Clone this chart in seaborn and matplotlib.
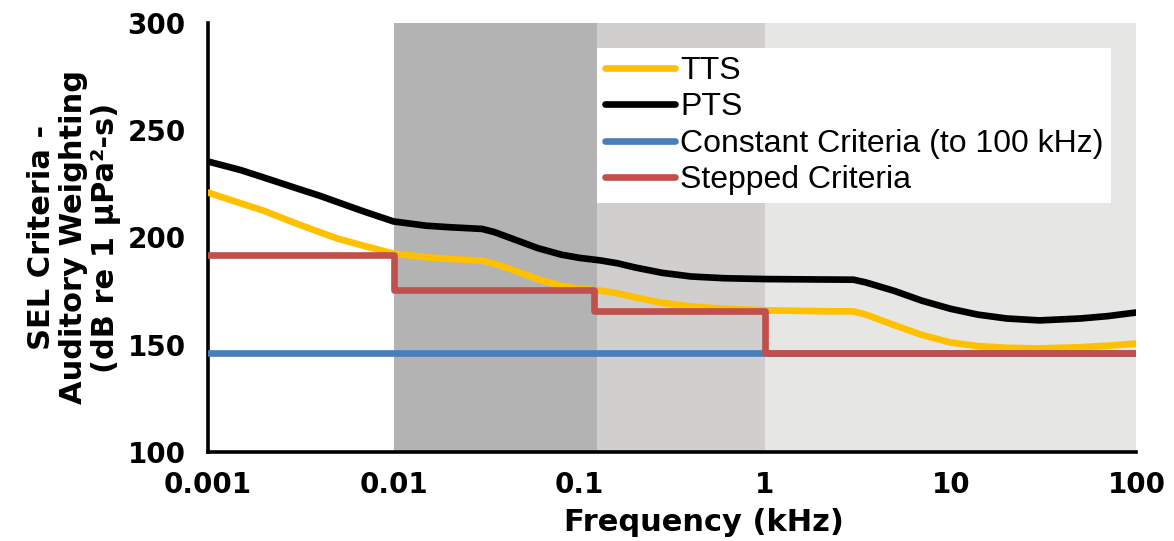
import matplotlib
matplotlib.use("Agg")
import matplotlib.pyplot as plt
import pandas as pd
import seaborn as sns

# values (frequency in kHz, SEL in dB)
tts_freq = [0.001, 0.0015, 0.002, 0.003, 0.004, 0.005, 0.007, 0.01, 0.015, 0.02, 0.03,
            0.035, 0.045, 0.06, 0.08, 0.1, 0.13, 0.16, 0.2, 0.28, 0.4, 0.6, 1, 2, 3,
            3.5, 5, 7, 10, 14, 20, 30, 50, 70, 100]
tts_sel = [221, 216, 212.5, 206.5, 202.5, 199.5, 196, 192.5, 190.8, 190, 189.2,
           187.8, 184.5, 180.5, 177.5, 176, 175.2, 174, 172, 169.5, 167.8, 166.8, 166, 165.6, 165.5,
           164, 159, 154.5, 151, 149.3, 148.5, 148.2, 148.8, 149.5, 150.5]

pts_freq = [0.001, 0.0015, 0.002, 0.003, 0.004, 0.005, 0.007, 0.01, 0.015, 0.02, 0.03,
            0.035, 0.045, 0.06, 0.08, 0.1, 0.13, 0.16, 0.2, 0.28, 0.4, 0.6, 1, 2, 3,
            3.5, 5, 7, 10, 14, 20, 30, 50, 70, 100]
pts_sel = [235.5, 231.5, 228, 223, 219.5, 216.5, 212, 207.5, 205.5, 204.8, 204,
           202.5, 199, 195, 192, 190.5, 189.3, 188, 186, 183.5, 181.8, 181, 180.6, 180.4, 180.3,
           179, 175, 170.5, 166.7, 164, 162.2, 161.3, 162.2, 163.3, 165]

const_freq = [0.001, 100]
const_sel = [146, 146]

step_freq = [0.001, 0.01, 0.12, 1, 100]
step_sel = [192, 175.4, 165.7, 146, 146]

band_edges = [0.01, 0.125, 1, 100]
band_colors = ["#b3b3b3", "#d1cfcd", "#e6e6e4"]

x_ticks = [0.001, 0.01, 0.1, 1, 10, 100]
x_tick_labels = ["0.001", "0.01", "0.1", "1", "10", "100"]
y_ticks = [100, 150, 200, 250, 300]

sns.set_theme(style="white")
plt.rcParams["font.family"] = ["Liberation Sans", "DejaVu Sans"]
plt.rcParams["text.color"] = "black"
plt.rcParams["axes.labelcolor"] = "black"
plt.rcParams["xtick.color"] = "black"
plt.rcParams["ytick.color"] = "black"
bold_font = ["DejaVu Sans"]

fig, ax = plt.subplots(figsize=(11.74, 5.41), dpi=100)
fig.subplots_adjust(left=0.177, right=0.968, top=0.957, bottom=0.165)

for lo, hi, col in zip(band_edges[:-1], band_edges[1:], band_colors):
    ax.axvspan(lo, hi, ymin=0, ymax=1, color=col, lw=0, zorder=0)

lw = 4.8
series = [
    (tts_freq, tts_sel, "TTS", "#ffc000", "default"),
    (pts_freq, pts_sel, "PTS", "#000000", "default"),
    (const_freq, const_sel, "Constant Criteria (to 100 kHz)", "#4a7ebb", "default"),
    (step_freq, step_sel, "Stepped Criteria", "#c0504d", "steps-post"),
]
for fx, fy, name, col, ds in series:
    df = pd.DataFrame({"freq": fx, "sel": fy})
    sns.lineplot(data=df, x="freq", y="sel", ax=ax, color=col, linewidth=lw,
                 label=name, drawstyle=ds, solid_capstyle="round",
                 solid_joinstyle="round", zorder=3)

ax.set_xscale("log")
ax.set_xlim(0.001, 100)
ax.set_ylim(100, 300)
ax.set_xticks(x_ticks)
ax.set_xticklabels(x_tick_labels)
ax.minorticks_off()
ax.set_yticks(y_ticks)

for side in ["top", "right"]:
    ax.spines[side].set_visible(False)
for side in ["left", "bottom"]:
    ax.spines[side].set_color("black")
    ax.spines[side].set_linewidth(2.6)

ax.tick_params(axis="both", direction="out", length=8, width=2.6, color="black",
               labelcolor="black", labelsize=20)
ax.tick_params(axis="x", pad=6)
ax.tick_params(axis="y", pad=8)
for lab in ax.get_xticklabels() + ax.get_yticklabels():
    lab.set_fontweight("bold")
    lab.set_fontfamily(bold_font)

ax.set_xlabel("Frequency (kHz)", fontsize=22, fontweight="bold", family=bold_font,
              color="black")
ax.xaxis.set_label_coords(0.534, -0.131)
ax.set_ylabel("SEL Criteria -\nAuditory Weighting\n(dB re 1 μPa²-s)",
              fontsize=22, fontweight="bold", linespacing=1.15, family=bold_font,
              color="black")
ax.yaxis.set_label_coords(-0.093, 0.5)

leg = ax.legend(loc="upper left", bbox_to_anchor=(0.419, 0.942), borderaxespad=0,
                fontsize=23, frameon=True, fancybox=False, framealpha=1,
                handlelength=2.2, handletextpad=0.15, labelspacing=0.2,
                borderpad=0.25)
leg.get_frame().set_facecolor("white")
leg.get_frame().set_edgecolor("white")
leg.get_frame().set_linewidth(0)
for t in leg.get_texts():
    t.set_color("black")

fig.savefig("out.png", dpi=100)
